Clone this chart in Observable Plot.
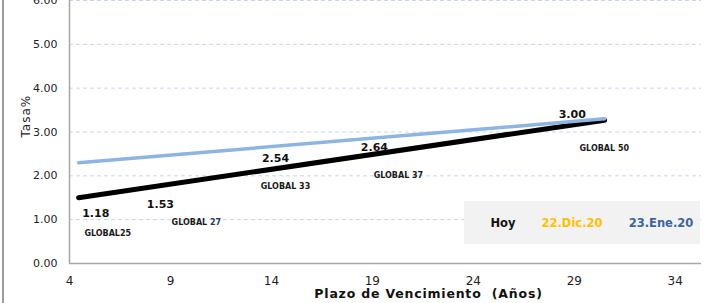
<!DOCTYPE html>
<html><head><meta charset="utf-8">
<script src="https://cdn.jsdelivr.net/npm/d3@7"></script>
<script src="https://cdn.jsdelivr.net/npm/@observablehq/plot@0.6"></script>
<style>
body{margin:0;background:#fff;}
#wrap{position:relative;width:725px;height:303px;overflow:hidden;font-family:"DejaVu Sans",sans-serif;}
#wrap svg{position:absolute;left:0;top:0;}
#border{position:absolute;left:2px;top:0;width:2px;height:303px;background:#9a9a9a;z-index:2;}
#legend{position:absolute;left:464px;top:201px;width:236px;height:43px;background:#f2f2f2;font-weight:bold;font-size:11.5px;z-index:3;}
#legend span{position:absolute;top:50%;transform:translate(-50%,-50%);white-space:nowrap;}
</style></head><body>
<div id="wrap"><div id="border"></div><div id="legend"></div></div>
<script>
// ---- data ----
const bonos = ["GLOBAL25", "GLOBAL 27", "GLOBAL 33", "GLOBAL 37", "GLOBAL 50"];
const plazo = [5.3, 8.5, 14.2, 19.1, 28.9];
const tasaHoy = [1.18, 1.53, 2.54, 2.64, 3.00];
const tendenciaPlazo = [4.45, 30.5];
const tendenciaHoy = [1.50, 3.27];
const tendencia23Ene = [2.30, 3.30];
const xTicks = [4, 9, 14, 19, 24, 29, 34];
const yTicks = [0, 1, 2, 3, 4, 5, 6];
const leyenda = ["Hoy", "22.Dic.20", "23.Ene.20"];
const ejeX = "Plazo de Vencimiento  (Años)";
const ejeY = "Tasa%";

// ---- build tables ----
const lineaHoy = tendenciaPlazo.map((x, i) => ({x, y: tendenciaHoy[i]}));
const linea23 = tendenciaPlazo.map((x, i) => ({x, y: tendencia23Ene[i]}));
const puntos = bonos.map((b, i) => ({bono: b, x: plazo[i], y: tasaHoy[i], t: tasaHoy[i].toFixed(2)}));

// label offsets (px)
const valDx = [0, 0, 0, 0, 0];
const valDy = [2, 8, 6, 0, -18];
const nomDx = [12, 36, 10, 24, 32];
const nomDy = [22, 26, 34, 28, 16];

const valMarks = puntos.map((p, i) => Plot.text([p], {x: "x", y: "y", text: "t", dx: valDx[i], dy: valDy[i], fontWeight: "bold", fontSize: 11, fill: "#111"}));
const nomMarks = puntos.map((p, i) => Plot.text([p], {x: "x", y: "y", text: "bono", dx: nomDx[i], dy: nomDy[i], fontWeight: "bold", fontSize: 8, fill: "#1a1a1a"}));

const chart = Plot.plot({
  width: 725,
  height: 303,
  marginTop: 0,
  marginBottom: 40,
  marginLeft: 69,
  marginRight: 24,
  style: {fontFamily: "DejaVu Sans, sans-serif", background: "transparent"},
  x: {domain: [4, 35.3]},
  y: {domain: [0, 6]},
  marks: [
    Plot.ruleY(yTicks.filter(d => d > 0), {stroke: "#c5d6ee", strokeDasharray: "4,3", strokeWidth: 1}),
    Plot.ruleY([0], {stroke: "#a6a6a6", strokeWidth: 1.5}),
    Plot.ruleX([4], {stroke: "#a6a6a6", strokeWidth: 1.5}),
    Plot.axisY(yTicks, {tickSize: 0, tickPadding: 12, tickFormat: d => d.toFixed(2), fontSize: 11, fill: "#222", label: null}),
    Plot.axisX(xTicks, {tickSize: 0, tickPadding: 13, fontSize: 12, fill: "#222", label: null}),
    Plot.line(lineaHoy, {x: "x", y: "y", stroke: "#000", strokeWidth: 5}),
    Plot.line(linea23, {x: "x", y: "y", stroke: "#8db4e2", strokeWidth: 3.5}),
    ...valMarks,
    ...nomMarks,
    Plot.text([ejeY], {frameAnchor: "left", dx: -43, dy: 5.5, rotate: -90, fontSize: 12, fill: "#222"}),
    Plot.text([ejeX], {frameAnchor: "bottom", dx: 43, dy: 34.5, fontWeight: "bold", fontSize: 12.5, fill: "#111"})
  ]
});

// colour the "27" in GLOBAL 27, spacing of axis titles
d3.select(chart).selectAll("text").each(function() {
  if (this.textContent === "GLOBAL 27") {
    this.textContent = "";
    const s = d3.select(this);
    s.append("tspan").text("GLOBAL ");
    s.append("tspan").attr("fill", "#1f3864").text("27");
  }
  if (this.textContent === ejeY) this.setAttribute("letter-spacing", "1");
  if (this.textContent === ejeX) this.setAttribute("letter-spacing", "0.8");
});

const wrap = document.getElementById("wrap");
wrap.insertBefore(chart, wrap.firstChild);

const legColors = ["#111", "#ffc000", "#3c64a0"];
const legPos = [39, 108, 197];
const legend = document.getElementById("legend");
leyenda.forEach((t, i) => {
  const s = document.createElement("span");
  s.textContent = t;
  s.style.color = legColors[i];
  s.style.left = legPos[i] + "px";
  legend.appendChild(s);
});
</script>
</body></html>
